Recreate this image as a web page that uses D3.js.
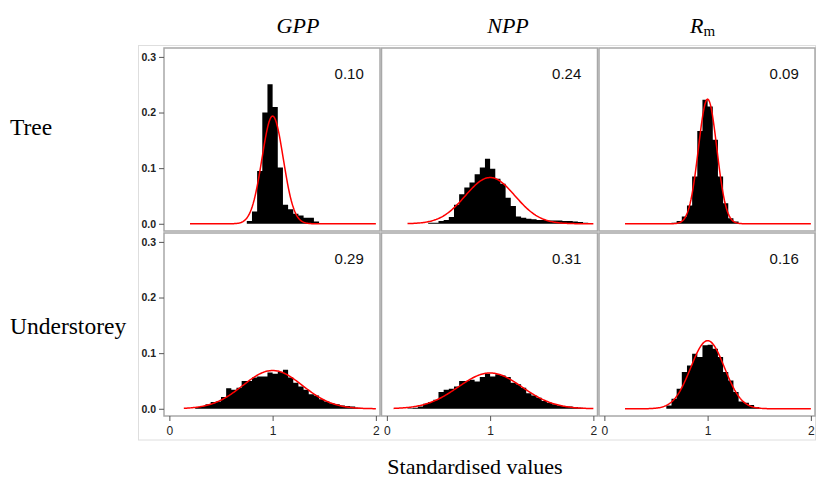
<!DOCTYPE html>
<html>
<head>
<meta charset="utf-8">
<script src="https://cdn.jsdelivr.net/npm/d3@7"></script>
<style>
  html, body { margin: 0; padding: 0; background: #fff; }
  svg { display: block; }
</style>
</head>
<body>
<svg id="chart" width="817" height="480"></svg>
<script>
// ---------------- data ----------------
const columnTitles = ["GPP", "NPP", "R"];
const rowTitles = ["Tree", "Understorey"];
const xAxisTitle = "Standardised values";
const binWidth = 0.05;
const xTicks = [0, 1, 2];
const yTicks = [0, 0.1, 0.2, 0.3];

// histogram bins: first bin left edge + relative frequencies
const treeGppStart = 0.75;
const treeGpp = [0.005, 0.022, 0.095, 0.200, 0.251, 0.210, 0.101, 0.034, 0.026, 0.018, 0.015, 0.011, 0.011, 0.004];
const treeNppStart = 0.40;
const treeNpp = [0.002, 0.002, 0.005, 0.007, 0.012, 0.034, 0.053, 0.065, 0.074, 0.089, 0.101, 0.117, 0.099, 0.081, 0.072, 0.047, 0.032, 0.013, 0.011, 0.009, 0.008, 0.007, 0.007, 0.006, 0.006, 0.006, 0.005, 0.005, 0.004, 0.003, 0.002];
const treeRmStart = 0.65;
const treeRm = [0.002, 0.005, 0.013, 0.033, 0.085, 0.167, 0.223, 0.211, 0.151, 0.085, 0.037, 0.010, 0.004];
const underGppStart = 0.25;
const underGpp = [0.003, 0.005, 0.008, 0.012, 0.013, 0.021, 0.037, 0.034, 0.038, 0.050, 0.050, 0.056, 0.058, 0.058, 0.065, 0.063, 0.066, 0.070, 0.056, 0.047, 0.040, 0.034, 0.026, 0.024, 0.017, 0.013, 0.010, 0.008, 0.006, 0.005, 0.004, 0.002, 0.001];
const underNppStart = 0.20;
const underNpp = [0.001, 0.002, 0.004, 0.009, 0.012, 0.016, 0.030, 0.034, 0.036, 0.040, 0.050, 0.050, 0.052, 0.049, 0.057, 0.063, 0.058, 0.062, 0.060, 0.057, 0.047, 0.044, 0.038, 0.028, 0.024, 0.020, 0.014, 0.011, 0.008, 0.006, 0.005, 0.004, 0.003, 0.002];
const underRmStart = 0.60;
const underRm = [0.006, 0.018, 0.036, 0.066, 0.078, 0.099, 0.093, 0.114, 0.115, 0.108, 0.093, 0.066, 0.051, 0.030, 0.013, 0.011, 0.007, 0.003];

// fitted normal (mean 1) shown in red, and the printed SD labels
const fitMean = [1, 1, 1, 1, 1, 1];
const fitSd = [0.103, 0.24, 0.089, 0.29, 0.31, 0.163];
const sdLabels = ["0.10", "0.24", "0.09", "0.29", "0.31", "0.16"];
const curveFrom = [0.2, 0.2, 0.2, 0.14, 0.065, 0.2];
const curveTo = [2.0, 2.0, 2.0, 2.0, 2.0, 2.0];

const histStarts = [treeGppStart, treeNppStart, treeRmStart, underGppStart, underNppStart, underRmStart];
const histValues = [treeGpp, treeNpp, treeRm, underGpp, underNpp, underRm];

// ---------------- layout ----------------
const svg = d3.select("#chart");
const panelLefts = [164, 381.5, 599];
const panelWidth = 216;
const panelTops = [48, 233];
const panelHeight = 183;
const xDomain = [-0.052, 2.04];
const yDomain = [-0.013, 0.316];

const sans = "'Liberation Sans', Arial, sans-serif";
const serif = "'Liberation Serif', 'Times New Roman', serif";

// outer light frame
svg.append("rect")
  .attr("x", 138.5).attr("y", 45.5)
  .attr("width", 677).attr("height", 394.5)
  .attr("fill", "none").attr("stroke", "#dedede").attr("stroke-width", 1);

const normal = (x, mu, sd) => binWidth * Math.exp(-((x - mu) ** 2) / (2 * sd * sd)) / (sd * Math.sqrt(2 * Math.PI));

for (let r = 0; r < 2; r++) {
  for (let c = 0; c < 3; c++) {
    const i = r * 3 + c;
    const x = d3.scaleLinear().domain(xDomain).range([panelLefts[c], panelLefts[c] + panelWidth]);
    const y = d3.scaleLinear().domain(yDomain).range([panelTops[r] + panelHeight, panelTops[r]]);
    const g = svg.append("g");

    // histogram, drawn as one solid stepped shape (no seams between bars)
    const bins = histValues[i].map((v, k) => ({ x0: histStarts[i] + k * binWidth, v }));
    const last = bins[bins.length - 1];
    const stepPts = bins.concat([{ x0: last.x0 + binWidth, v: last.v }]);
    g.append("path")
      .datum(stepPts)
      .attr("d", d3.area().curve(d3.curveStepAfter)
        .x(d => x(d.x0)).y0(y(0)).y1(d => y(d.v)))
      .attr("fill", "#000");

    // fitted normal curve
    const n = 200;
    const pts = d3.range(n + 1).map(k => {
      const xv = curveFrom[i] + (curveTo[i] - curveFrom[i]) * k / n;
      return [xv, normal(xv, fitMean[i], fitSd[i])];
    });
    g.append("path")
      .attr("d", d3.line().x(d => x(d[0])).y(d => y(d[1]))(pts))
      .attr("fill", "none").attr("stroke", "#ff0000").attr("stroke-width", 1.5);

    // SD label
    g.append("text")
      .attr("x", x(1.6)).attr("y", y(0.26))
      .attr("font-family", sans).attr("font-size", 15).attr("fill", "#111")
      .text(sdLabels[i]);

    // panel border
    g.append("rect")
      .attr("x", panelLefts[c]).attr("y", panelTops[r])
      .attr("width", panelWidth).attr("height", panelHeight)
      .attr("fill", "none").attr("stroke", "#a8a8a8").attr("stroke-width", 1.5);

    // axes
    if (c === 0) {
      const ax = g.append("g").attr("transform", `translate(${panelLefts[c]},0)`)
        .call(d3.axisLeft(y).tickValues(yTicks).tickFormat(d3.format(".1f")).tickSize(5).tickPadding(3));
      ax.select(".domain").remove();
      ax.selectAll("line").attr("stroke", "#555");
      ax.selectAll("text").attr("font-family", sans).attr("font-size", 10.5).attr("font-weight", "bold").attr("fill", "#222");
    }
    if (r === 1) {
      const ax = g.append("g").attr("transform", `translate(0,${panelTops[r] + panelHeight})`)
        .call(d3.axisBottom(x).tickValues(xTicks).tickFormat(d3.format("d")).tickSize(5).tickPadding(5));
      ax.select(".domain").remove();
      ax.selectAll("line").attr("stroke", "#555");
      ax.selectAll("text").attr("font-family", sans).attr("font-size", 12).attr("fill", "#222");
    }
  }
}

// column titles
const titleX = [298, 508, 700];
columnTitles.forEach((t, c) => {
  const txt = svg.append("text")
    .attr("x", titleX[c]).attr("y", 33)
    .attr("text-anchor", c === 2 ? "start" : "middle")
    .attr("font-family", serif).attr("font-size", 22).attr("font-style", "italic").attr("fill", "#000");
  if (c === 2) {
    txt.attr("x", 690).text(t);
    txt.append("tspan").attr("font-style", "normal").attr("font-size", 15).attr("dy", 3).text("m");
  } else {
    txt.text(t);
  }
});

// row titles
const rowY = [135, 334];
rowTitles.forEach((t, r) => {
  svg.append("text")
    .attr("x", 10).attr("y", rowY[r])
    .attr("font-family", serif).attr("font-size", 23.5).attr("fill", "#000")
    .text(t);
});

// x axis title
svg.append("text")
  .attr("x", 475).attr("y", 474).attr("text-anchor", "middle")
  .attr("font-family", serif).attr("font-size", 22).attr("fill", "#000")
  .text(xAxisTitle);
</script>
</body>
</html>
